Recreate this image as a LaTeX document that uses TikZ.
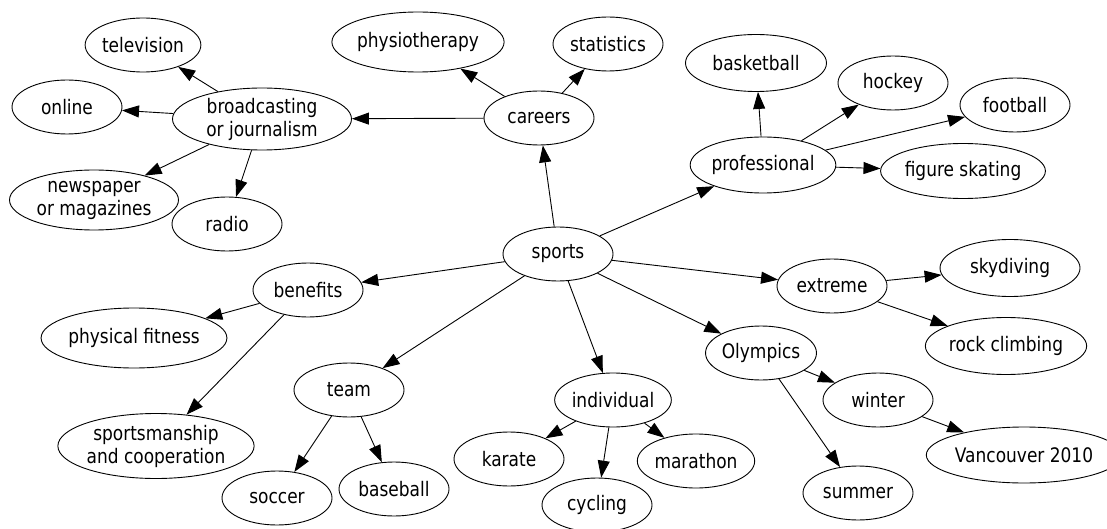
\documentclass[tikz,border=0pt]{standalone}
\usepackage{fontspec}
\setmainfont{DejaVu Sans}[FakeStretch=0.85]
\usetikzlibrary{arrows.meta,shapes.geometric}
\begin{document}
\begin{tikzpicture}[x=1pt,y=-1pt,
  topic/.style={draw, ellipse, line width=0.9pt, inner sep=0pt, minimum width=110pt, minimum height=54pt,
    align=center, font=\fontsize{20}{23}\selectfont},
  link/.style={line width=0.9pt, -{Triangle[length=17pt,width=12pt]}}]
\useasboundingbox (0,0) rectangle (1107,529);
\node[topic] (sports) at (558,254) {sports};
\node[topic] (careers) at (539,118) {careers};
\node[topic, minimum width=179pt, minimum height=62pt] (broad) at (262,119) {broadcasting\\or journalism};
\node[topic] (tv) at (143,45) {television};
\node[topic] (online) at (67,107) {online};
\node[topic, minimum width=169pt, minimum height=60pt] (news) at (94,200) {newspaper\\or magazines};
\node[topic] (radio) at (227,224) {radio};
\node[topic, minimum width=169pt, minimum height=60pt] (physio) at (418,42) {physiotherapy};
\node[topic] (stats) at (608,44) {statistics};
\node[topic, minimum width=140pt, minimum height=56pt] (pro) at (763,165) {professional};
\node[topic, minimum width=141pt, minimum height=57pt] (basket) at (756,63) {basketball};
\node[topic] (hockey) at (893,83) {hockey};
\node[topic] (football) at (1015,105) {football};
\node[topic, minimum width=151pt, minimum height=55pt] (figure) at (963,171) {figure skating};
\node[topic] (extreme) at (832,286) {extreme};
\node[topic, minimum width=140pt, minimum height=57pt] (sky) at (1010,268) {skydiving};
\node[topic, minimum width=141pt, minimum height=57pt] (rock) at (1006,346) {rock climbing};
\node[topic] (olymp) at (761,353) {Olympics};
\node[topic] (winter) at (878,400) {winter};
\node[topic, minimum width=166pt, minimum height=56pt] (vanc) at (1024,455) {Vancouver 2010};
\node[topic] (summer) at (858,493) {summer};
\node[topic] (indiv) at (613,400) {individual};
\node[topic] (karate) at (509,459) {karate};
\node[topic] (cycling) at (597,505) {cycling};
\node[topic] (marathon) at (696,461) {marathon};
\node[topic] (team) at (349,390) {team};
\node[topic] (soccer) at (277,498) {soccer};
\node[topic] (baseball) at (394,489) {baseball};
\node[topic] (benefits) at (308,290) {benefits};
\node[topic, minimum width=169pt, minimum height=60pt] (fitness) at (134,338) {physical fitness};
\node[topic, minimum width=182pt, minimum height=65pt] (sportsman) at (156,446) {sportsmanship\\and cooperation};

\draw[link] (sports) -- (careers);
\draw[link] (sports) -- (pro);
\draw[link] (sports) -- (extreme);
\draw[link] (sports) -- (olymp);
\draw[link] (sports) -- (indiv);
\draw[link] (sports) -- (team);
\draw[link] (sports) -- (benefits);
\draw[link] (careers) -- (broad);
\draw[link] (careers) -- (physio);
\draw[link] (careers) -- (stats);
\draw[link] (broad) -- (tv);
\draw[link] (broad) -- (online);
\draw[link] (broad) -- (news);
\draw[link] (broad) -- (radio);
\draw[link] (pro) -- (basket);
\draw[link] (pro) -- (hockey);
\draw[link] (pro) -- (football);
\draw[link] (pro) -- (figure);
\draw[link] (benefits) -- (fitness);
\draw[link] (benefits) -- (sportsman);
\draw[link] (team) -- (soccer);
\draw[link] (team) -- (baseball);
\draw[link] (indiv) -- (karate);
\draw[link] (indiv) -- (cycling);
\draw[link] (indiv) -- (marathon);
\draw[link] (olymp) -- (winter);
\draw[link] (olymp) -- (summer);
\draw[link] (winter) -- (vanc);
\draw[link] (extreme) -- (sky);
\draw[link] (extreme) -- (rock);
\end{tikzpicture}
\end{document}
